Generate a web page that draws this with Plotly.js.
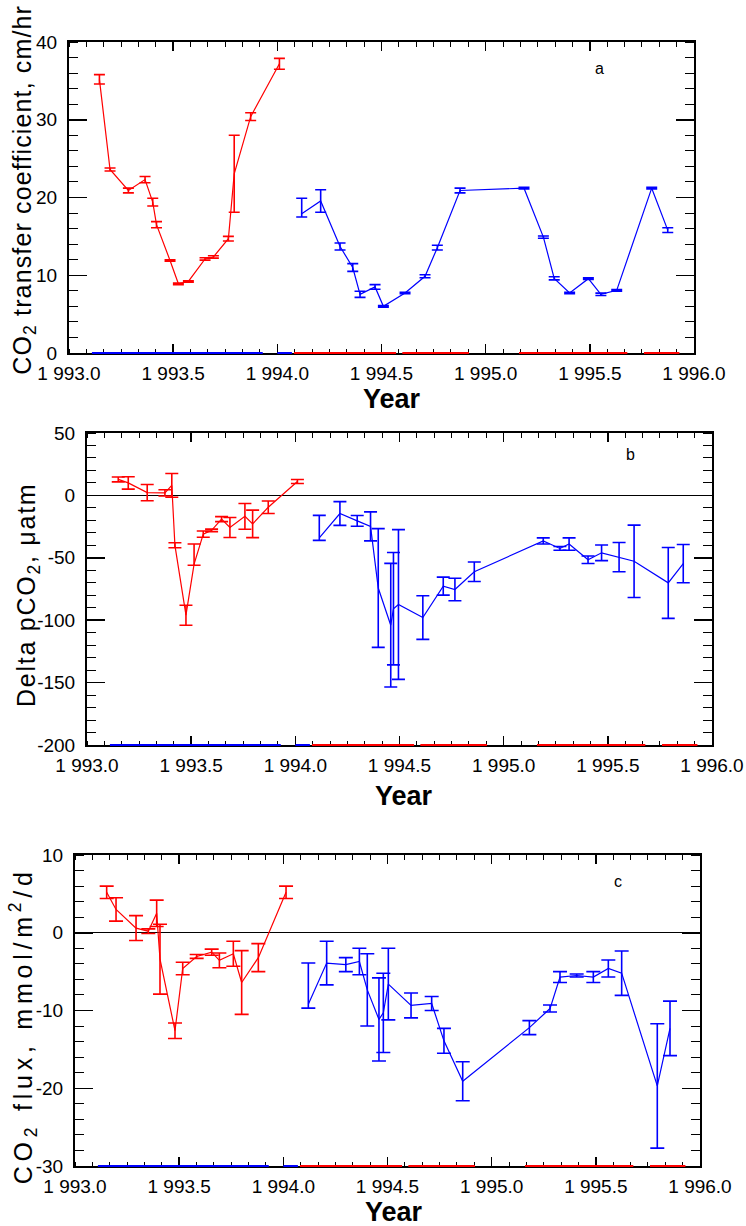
<!DOCTYPE html>
<html>
<head>
<meta charset="utf-8">
<script src="https://cdn.plot.ly/plotly-3.0.1.min.js"></script>
<style>
html,body{margin:0;padding:0;background:#fff;}
#chart{width:746px;height:1226px;}
</style>
</head>
<body>
<div id="chart"></div>
<script>
// ---------- Panel a: CO2 transfer coefficient (cm/hr) ----------
const aRedX = [1993.146, 1993.197, 1993.285, 1993.365, 1993.402, 1993.420, 1993.485, 1993.525, 1993.573, 1993.653, 1993.693, 1993.765, 1993.793, 1993.872, 1994.010];
const aRedY = [35.2, 23.6, 20.9, 22.3, 19.4, 16.5, 11.9, 8.9, 9.2, 12.1, 12.35, 14.7, 23.05, 30.4, 37.2];
const aRedErr = [0.6, 0.2, 0.3, 0.4, 0.5, 0.4, 0.1, 0.1, 0.1, 0.15, 0.15, 0.3, 4.95, 0.5, 0.7];

const aBlueX = [1994.117, 1994.208, 1994.301, 1994.362, 1994.397, 1994.469, 1994.509, 1994.613, 1994.709, 1994.768, 1994.877, 1995.184, 1995.277, 1995.329, 1995.403, 1995.493, 1995.553, 1995.629, 1995.797, 1995.874];
const aBlueY = [17.9, 19.55, 13.7, 11.0, 7.55, 8.5, 6.0, 7.72, 9.87, 13.55, 20.9, 21.2, 14.9, 9.6, 7.72, 9.56, 7.55, 8.06, 21.2, 15.8];
const aBlueErrPlus = [2.0, 1.45, 0.45, 0.5, 0.4, 0.3, 0.1, 0.1, 0.2, 0.3, 0.3, 0.1, 0.15, 0.2, 0.1, 0.1, 0.15, 0.1, 0.1, 0.3];
const aBlueErrMinus = [0.4, 1.45, 0.45, 0.5, 0.4, 0.3, 0.1, 0.1, 0.2, 0.3, 0.3, 0.1, 0.15, 0.2, 0.1, 0.1, 0.15, 0.1, 0.1, 0.3];

// ---------- Panel b: Delta pCO2 (uatm) ----------
const bRedX = [1993.150, 1993.198, 1993.289, 1993.374, 1993.407, 1993.422, 1993.475, 1993.514, 1993.558, 1993.598, 1993.646, 1993.686, 1993.758, 1993.795, 1993.870, 1994.010];
const bRedY = [12.8, 10, 2.2, 2, 8, -40, -96, -55, -31, -28, -19, -25.7, -16.8, -22.8, -9.5, 11.1];
const bRedErrPlus = [2, 5, 6.5, 2.5, 9.5, 2, 8, 16, 2.5, 1, 2, 8, 10.3, 11, 5, 1.6];
const bRedErrMinus = [2, 5, 6.5, 2.5, 9.5, 2, 8, 1, 2.5, 1, 2, 8, 10.3, 11, 5, 1.6];

const bBlueX = [1994.115, 1994.214, 1994.297, 1994.361, 1994.398, 1994.458, 1994.471, 1994.495, 1994.612, 1994.710, 1994.766, 1994.859, 1995.190, 1995.270, 1995.314, 1995.405, 1995.470, 1995.554, 1995.626, 1995.790, 1995.862];
const bBlueY = [-34, -14.5, -20.4, -24.8, -74.2, -104, -90.8, -87.4, -97.9, -72.7, -75.4, -61.2, -36.5, -42.5, -39, -51.6, -46, -49.5, -52.8, -70.1, -54.7];
const bBlueErrPlus = [18, 9.5, 4.3, 11.6, 47.6, 49.5, 45, 60, 17.5, 7.2, 9, 7.8, 2.5, 1.5, 5, 3, 6.3, 11.7, 29, 28.4, 15.3];
const bBlueErrMinus = [2, 9.5, 4.3, 11.6, 47.6, 49.5, 45, 60, 17.5, 7.2, 9, 7.8, 2.5, 1.5, 5, 3, 6.3, 11.7, 29, 28.4, 15.3];

// ---------- Panel c: CO2 flux (mmol/m2/d) ----------
const cRedX = [1993.152, 1993.197, 1993.293, 1993.352, 1993.392, 1993.408, 1993.480, 1993.517, 1993.584, 1993.656, 1993.693, 1993.760, 1993.800, 1993.880, 1994.013];
const cRedY = [5.2, 3.0, 0.6, 0.2, 2.5, -3.4, -12.6, -4.6, -3.05, -2.5, -3.55, -2.7, -6.4, -3.2, 5.2];
const cRedErr = [0.8, 1.5, 1.6, 0.3, 1.7, 4.5, 1.0, 0.8, 0.25, 0.4, 0.95, 1.6, 4.1, 1.8, 0.8];

const cBlueX = [1994.120, 1994.208, 1994.300, 1994.365, 1994.403, 1994.459, 1994.480, 1994.504, 1994.613, 1994.712, 1994.771, 1994.861, 1995.181, 1995.280, 1995.328, 1995.408, 1995.488, 1995.560, 1995.624, 1995.795, 1995.856];
const cBlueY = [-9.2, -3.9, -4.1, -3.7, -7.35, -11.15, -10.3, -6.6, -9.35, -9.1, -13.9, -19.1, -12.2, -9.75, -5.7, -5.5, -5.7, -4.6, -5.2, -19.7, -12.3];
const cBlueErrPlus = [5.3, 2.8, 0.9, 1.7, 4.65, 5.35, 5.1, 4.6, 1.6, 0.9, 1.6, 2.5, 0.9, 0.45, 0.7, 0.2, 0.7, 1.1, 2.85, 8, 3.5];
const cBlueErrMinus = [0.5, 2.8, 0.9, 1.7, 4.65, 5.35, 5.1, 4.6, 1.6, 0.9, 1.6, 2.5, 0.9, 0.45, 0.7, 0.2, 0.7, 1.1, 2.85, 8, 3.5];

// ---------- coloured coverage bars along each bottom axis (start, end pairs) ----------
const blueBarStart = [1993.11, 1994.00];
const blueBarEnd = [1993.93, 1994.07];
const redBarStart = [1994.08, 1994.60, 1995.16, 1995.76];
const redBarEnd = [1994.57, 1994.92, 1995.68, 1995.93];

// ---------- axis ranges ----------
const yearRange = [1993, 1996];
const aRange = [0, 40], bRange = [-200, 50], cRange = [-30, 10];

const RED = '#ff0000', BLUE = '#0000ff';
const W = 746, H = 1226;

// minor tick positions (axis furniture only)
function steps(lo, hi, n) { const out = []; for (let k = 0; k <= n; k++) out.push(lo + (hi - lo) * k / n); return out; }
const xMinor = steps(1993, 1996, 36);
const aMinor = steps(0, 40, 20);
const bMinor = steps(-200, 50, 25);
const cMinor = steps(-30, 10, 20);

function series(x, y, plus, minus, color, xa, ya, capw) {
  return {
    type: 'scatter', mode: 'lines', x: x, y: y, xaxis: xa, yaxis: ya,
    line: {color: color, width: 1.2},
    error_y: {type: 'data', symmetric: false, array: plus, arrayminus: minus,
              color: color, thickness: 1.6, width: capw},
    hoverinfo: 'skip', showlegend: false
  };
}

const traces = [
  series(aRedX, aRedY, aRedErr, aRedErr, RED, 'x', 'y', 5.5),
  series(aBlueX, aBlueY, aBlueErrPlus, aBlueErrMinus, BLUE, 'x', 'y', 5.5),
  series(bRedX, bRedY, bRedErrPlus, bRedErrMinus, RED, 'x2', 'y2', 6.5),
  series(bBlueX, bBlueY, bBlueErrPlus, bBlueErrMinus, BLUE, 'x2', 'y2', 6.5),
  series(cRedX, cRedY, cRedErr, cRedErr, RED, 'x3', 'y3', 7),
  series(cBlueX, cBlueY, cBlueErrPlus, cBlueErrMinus, BLUE, 'x3', 'y3', 7)
];

// bars drawn as shapes on top of the bottom axis line
const shapes = [];
[['x', 'y'], ['x2', 'y2'], ['x3', 'y3']].forEach(function (p) {
  [[blueBarStart, blueBarEnd, BLUE], [redBarStart, redBarEnd, RED]].forEach(function (s) {
    s[0].forEach(function (x0, i) {
      shapes.push({type: 'line', xref: p[0], yref: p[1] + ' domain', x0: x0, x1: s[1][i],
                   y0: 0, y1: 0, line: {color: s[2], width: 2}, layer: 'above'});
    });
  });
});

const tickFont = {family: '"Liberation Sans", Arial, sans-serif', size: 19, color: '#000'};

function xAxis(l, r, anchor) {
  return {
    domain: [l / W, r / W], anchor: anchor, range: yearRange,
    tickmode: 'linear', tick0: 1993, dtick: 0.5, tickformat: ',.1f',
    ticks: 'inside', ticklen: 9, tickwidth: 1.5, tickcolor: '#000',
    showline: true, linewidth: 2, linecolor: '#000', mirror: 'ticks',
    showgrid: false, zeroline: false, tickfont: tickFont,
    ticklabelstandoff: 2
  };
}
function yAxis(t, b, anchor, range, dt, zl) {
  return {
    domain: [1 - b / H, 1 - t / H], anchor: anchor, range: range,
    tickmode: 'linear', tick0: 0, dtick: dt,
    ticks: 'inside', ticklen: 18, tickwidth: 1.5, tickcolor: '#000',
    showline: true, linewidth: 2, linecolor: '#000', mirror: 'ticks',
    showgrid: false, zeroline: zl, zerolinecolor: '#000', zerolinewidth: 1.3,
    tickfont: tickFont, ticklabelstandoff: 6
  };
}

const titleFont = {family: '"Liberation Sans", Arial, sans-serif', size: 25, color: '#000'};
const yearFont = {family: '"Liberation Sans", Arial, sans-serif', size: 27, color: '#000', weight: 'bold'};
const lblFont = {family: '"Liberation Sans", Arial, sans-serif', size: 16, color: '#000'};

function ann(px, py, text, font, angle) {
  return {xref: 'paper', yref: 'paper', x: px / W, y: 1 - py / H, text: text,
          showarrow: false, font: font, textangle: angle || 0,
          xanchor: 'center', yanchor: 'middle'};
}

const layout = {
  width: W, height: H, autosize: false,
  margin: {l: 0, r: 0, t: 0, b: 0},
  paper_bgcolor: '#fff', plot_bgcolor: '#fff',
  separators: '. ',
  showlegend: false,
  xaxis: xAxis(69, 694, 'y'),
  yaxis: yAxis(42, 353, 'x', aRange, 10, false),
  xaxis2: xAxis(87, 712, 'y2'),
  yaxis2: yAxis(433, 745, 'x2', bRange, 50, true),
  xaxis3: xAxis(75, 700, 'y3'),
  yaxis3: yAxis(855, 1166, 'x3', cRange, 10, true),
  shapes: shapes,
  annotations: [
    ann(24, 190, 'CO<sub>2</sub> transfer coefficient, cm/hr', titleFont, -90),
    ann(28, 595, 'Delta pCO<sub>2</sub>, μatm', titleFont, -90),
    ann(23, 1026, 'CO<sub>2</sub> flux, mmol/m<sup>2</sup>/d', titleFont, -90),
    ann(392, 399, 'Year', yearFont),
    ann(404, 796, 'Year', yearFont),
    ann(394, 1212, 'Year', yearFont),
    ann(599, 68, 'a', lblFont),
    ann(630, 455, 'b', lblFont),
    ann(618, 881, 'c', lblFont)
  ]
};

// target lengths (px) of the three rotated axis titles in the reference
const titleLengths = [372, 228, 336];

// minor ticks placed through each axis' own scale (l2p)
const minorSpecs = [
  {x: 'xaxis', y: 'yaxis', xv: xMinor, yv: aMinor, xl: 4.5, yl: 9},
  {x: 'xaxis2', y: 'yaxis2', xv: xMinor, yv: bMinor, xl: 4.5, yl: 9},
  {x: 'xaxis3', y: 'yaxis3', xv: xMinor, yv: cMinor, xl: 4.5, yl: 9}
];
const SVGNS = 'http://www.w3.org/2000/svg';
function seg(g, x1, y1, x2, y2) {
  const l = document.createElementNS(SVGNS, 'line');
  l.setAttribute('x1', x1); l.setAttribute('y1', y1);
  l.setAttribute('x2', x2); l.setAttribute('y2', y2);
  l.setAttribute('stroke', '#000'); l.setAttribute('stroke-width', '1');
  l.setAttribute('shape-rendering', 'crispEdges');
  g.appendChild(l);
}
function addMinorTicks(gd) {
  try {
    const fl = gd._fullLayout;
    const svg = gd.querySelector('svg.main-svg');
    const old = svg.querySelector('#minor-ticks');
    if (old) old.remove();
    const g = document.createElementNS(SVGNS, 'g');
    g.setAttribute('id', 'minor-ticks');
    minorSpecs.forEach(function (m) {
      const xa = fl[m.x], ya = fl[m.y];
      const left = xa._offset, right = xa._offset + xa._length;
      const top = ya._offset, bottom = ya._offset + ya._length;
      m.xv.forEach(function (v) {
        const px = xa._offset + xa.l2p(v);
        seg(g, px, bottom, px, bottom - m.xl);
        seg(g, px, top, px, top + m.xl);
      });
      m.yv.forEach(function (v) {
        const py = ya._offset + ya.l2p(v);
        seg(g, left, py, left + m.yl, py);
        seg(g, right, py, right - m.yl, py);
      });
    });
    svg.appendChild(g);
  } catch (e) { /* keep the chart even if this fails */ }
}

function finish(gd) {
  // the reference prints negative tick labels with a plain hyphen
  gd.querySelectorAll('g.ytick text, g.y2tick text, g.y3tick text').forEach(function (t) {
    if (t.textContent.indexOf('\u2212') >= 0) t.textContent = t.textContent.replace('\u2212', '-');
  });
  const texts = gd.querySelectorAll('.annotation-text');
  titleLengths.forEach(function (target, i) {
    const el = texts[i];
    if (!el) return;
    el.style.letterSpacing = '0px';
    const len = el.getComputedTextLength();
    const n = el.textContent.length;
    const ls = (target - len) / n;
    if (ls > 0) el.style.letterSpacing = ls.toFixed(2) + 'px';
  });
  addMinorTicks(gd);
}

Plotly.newPlot('chart', traces, layout, {staticPlot: true, displayModeBar: false}).then(function (gd) {
  finish(gd);
  gd.on('plotly_afterplot', function () { finish(gd); });
});
</script>
</body>
</html>
